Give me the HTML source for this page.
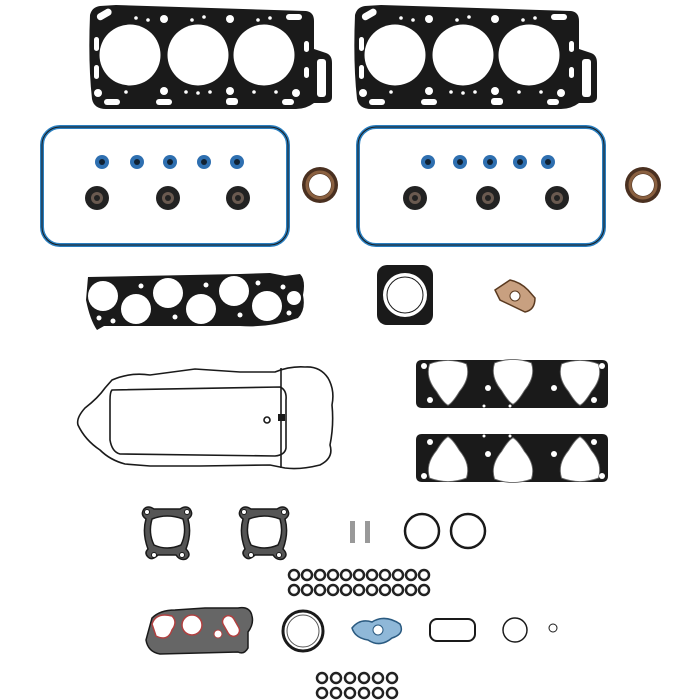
<!DOCTYPE html>
<html><head><meta charset="utf-8"><style>html,body{margin:0;padding:0;background:#fff}svg{display:block}</style></head>
<body>
<svg width="700" height="700" viewBox="0 0 700 700" xmlns="http://www.w3.org/2000/svg">
<defs>
<g id="head">
  <path d="M4,12 Q6,4 14,3 L30,2 L220,8 Q228,9 228,18 L228,46 L240,50 Q246,52 246,60 L246,94 Q246,100 238,100 L228,100 Q220,106 210,106 L20,106 Q8,106 6,96 Q2,60 4,12 Z" fill="#1a1a1a"/>
  <rect x="231" y="56" width="9" height="38" rx="3" fill="#fff"/>
  <circle cx="44" cy="52" r="30.5" fill="#fff"/>
  <circle cx="112" cy="52" r="30.5" fill="#fff"/>
  <circle cx="178" cy="52" r="30.5" fill="#fff"/>
  <g fill="#fff">
    <rect x="10" y="8" width="16" height="7" rx="3.5" transform="rotate(-30 18 11)"/>
    <rect x="200" y="11" width="16" height="6" rx="3"/>
    <rect x="8" y="34" width="5" height="14" rx="2.5"/><rect x="8" y="62" width="5" height="14" rx="2.5"/>
    <rect x="218" y="38" width="5" height="11" rx="2.5"/><rect x="218" y="64" width="5" height="11" rx="2.5"/>
    <circle cx="78" cy="16" r="4"/><circle cx="144" cy="16" r="4"/><circle cx="78" cy="88" r="4"/><circle cx="144" cy="88" r="4"/>
    <circle cx="50" cy="15" r="1.8"/><circle cx="62" cy="17" r="1.8"/><circle cx="106" cy="17" r="1.8"/><circle cx="118" cy="14" r="1.8"/><circle cx="172" cy="17" r="1.8"/><circle cx="184" cy="15" r="1.8"/>
    <circle cx="40" cy="89" r="1.8"/><circle cx="100" cy="89" r="1.8"/><circle cx="112" cy="90" r="1.8"/><circle cx="124" cy="89" r="1.8"/><circle cx="168" cy="89" r="1.8"/><circle cx="190" cy="89" r="1.8"/>
    <circle cx="12" cy="90" r="4"/><circle cx="210" cy="90" r="4"/>
    <rect x="18" y="96" width="16" height="6" rx="3"/><rect x="70" y="96" width="16" height="6" rx="3"/><rect x="140" y="95" width="12" height="7" rx="3"/><rect x="196" y="96" width="12" height="6" rx="3"/>
  </g>
</g>
<g id="vc">
  <rect x="0" y="0" width="246" height="118" rx="18" fill="none" stroke="#2a7fc0" stroke-width="4"/>
  <rect x="0" y="0" width="246" height="118" rx="18" fill="none" stroke="#1a1a1a" stroke-width="1"/>
</g>
<g id="seal"><circle r="12" fill="#222"/><circle r="6" fill="#6a5a50"/><circle r="3" fill="#222"/></g>
<g id="vs"><circle r="7" fill="#2e6fb0"/><circle r="3" fill="#123"/></g>
<g id="bseal"><circle r="18" fill="#4a3020"/><circle r="11" fill="#fff"/><circle r="13" fill="none" stroke="#8a6040" stroke-width="3"/></g>
<g id="tear"><path d="M-16,-14 Q0,-20 16,-14 Q20,-2 10,10 Q4,20 0,22 Q-4,20 -10,10 Q-20,-2 -16,-14 Z" fill="#fff" stroke="#666" stroke-width="0.8" transform="scale(1.15)"/></g>
<g id="im">
  <path d="M4,2 L184,2 Q190,2 190,8 L190,44 Q190,50 184,50 L4,50 Q-2,50 -2,44 L-2,8 Q-2,2 4,2 Z" fill="#1a1a1a"/>
  <use href="#tear" x="30" y="22"/>
  <use href="#tear" x="95" y="21"/>
  <use href="#tear" x="162" y="22"/>
  <g fill="#fff"><circle cx="6" cy="8" r="3"/><circle cx="184" cy="8" r="3"/><circle cx="12" cy="42" r="3"/><circle cx="176" cy="42" r="3"/><circle cx="70" cy="30" r="3"/><circle cx="136" cy="30" r="3"/><circle cx="66" cy="48" r="1.5"/><circle cx="92" cy="48" r="1.5"/></g>
</g>
<g id="sg">
  <path d="M4,4 Q8,0 14,4 L40,4 Q46,0 50,4 Q54,10 48,14 Q52,28 46,44 Q52,50 46,54 Q40,56 36,50 L18,50 Q12,56 8,52 Q4,48 8,44 Q2,28 6,14 Q0,10 4,4 Z" fill="#555" stroke="#1a1a1a" stroke-width="1.5"/>
  <path d="M12,14 Q27,8 43,14 Q47,28 41,40 Q27,46 14,40 Q8,28 12,14 Z" fill="#fff" stroke="#1a1a1a" stroke-width="1.5"/>
  <g fill="#fff" stroke="#1a1a1a"><circle cx="7" cy="7" r="2.5"/><circle cx="47" cy="7" r="2.5"/><circle cx="14" cy="50" r="2.5"/><circle cx="42" cy="50" r="2.5"/></g>
</g>
<g id="or"><circle r="5" fill="none" stroke="#222" stroke-width="2.5"/></g>
</defs>

<use href="#head" x="86" y="3"/>
<use href="#head" x="351" y="3"/>

<use href="#vc" x="42" y="127"/>
<use href="#vc" x="358" y="127"/>
<use href="#vs" x="102" y="162"/><use href="#vs" x="137" y="162"/><use href="#vs" x="170" y="162"/><use href="#vs" x="204" y="162"/><use href="#vs" x="237" y="162"/>
<use href="#vs" x="428" y="162"/><use href="#vs" x="460" y="162"/><use href="#vs" x="490" y="162"/><use href="#vs" x="520" y="162"/><use href="#vs" x="548" y="162"/>
<use href="#seal" x="97" y="198"/><use href="#seal" x="168" y="198"/><use href="#seal" x="238" y="198"/>
<use href="#seal" x="415" y="198"/><use href="#seal" x="488" y="198"/><use href="#seal" x="557" y="198"/>
<use href="#bseal" x="320" y="185"/><use href="#bseal" x="643" y="185"/>

<path d="M88,277 L240,274 L270,273 L285,276 L300,274 Q306,280 303,295 Q306,310 298,318 Q270,328 240,326 L104,326 L97,330 Q90,320 86,300 Z" fill="#1a1a1a"/>
<g fill="#fff">
<circle cx="103" cy="296" r="15"/><circle cx="136" cy="309" r="15"/><circle cx="168" cy="293" r="15"/><circle cx="201" cy="309" r="15"/><circle cx="234" cy="291" r="15"/><circle cx="267" cy="306" r="15"/><circle cx="294" cy="298" r="7"/>
<circle cx="141" cy="286" r="2.5"/><circle cx="206" cy="285" r="2.5"/><circle cx="258" cy="283" r="2.5"/><circle cx="283" cy="287" r="2.5"/><circle cx="175" cy="317" r="2.5"/><circle cx="240" cy="315" r="2.5"/><circle cx="99" cy="318" r="2.5"/><circle cx="113" cy="321" r="2.5"/><circle cx="289" cy="313" r="2.5"/>
</g>
<rect x="377" y="265" width="56" height="60" rx="10" fill="#1a1a1a"/>
<circle cx="405" cy="295" r="22" fill="#fff"/>
<circle cx="405" cy="295" r="18" fill="none" stroke="#1a1a1a" stroke-width="1"/>
<path d="M495,290 L510,280 Q520,282 528,290 L535,298 Q535,310 525,312 L500,300 Z" fill="#c8a080" stroke="#5a3a20" stroke-width="1.5"/>
<circle cx="515" cy="296" r="5" fill="#fff" stroke="#5a3a20"/>

<g fill="none" stroke="#1a1a1a" stroke-width="1.6">
<path d="M112,380 Q130,372 150,375 L195,369 L240,372 L275,372 Q290,366 305,367 Q320,366 328,378 Q335,390 332,405 Q334,425 330,445 Q334,458 320,465 Q300,470 285,468 L270,465 L200,466 Q170,466 150,466 L125,464 Q110,460 100,450 Q85,440 78,425 Q76,418 85,408 Q98,398 105,388 Z"/>
<path d="M112,390 L280,387 Q287,390 286,400 L286,448 Q285,455 275,456 L120,454 Q112,452 110,440 L110,400 Q110,392 112,390 Z"/>
<path d="M281,368 L281,468"/>
<circle cx="267" cy="420" r="3"/>
</g>
<rect x="278" y="414" width="7" height="7" fill="#1a1a1a"/>

<use href="#im" x="418" y="358"/>
<g transform="translate(418,484) scale(1,-1)"><use href="#im"/></g>

<use href="#sg" x="140" y="505"/>
<use href="#sg" x="237" y="505"/>
<rect x="350" y="521" width="5" height="22" fill="#999"/><rect x="365" y="521" width="5" height="22" fill="#999"/>
<circle cx="422" cy="531" r="17" fill="none" stroke="#1a1a1a" stroke-width="2.5"/>
<circle cx="468" cy="531" r="17" fill="none" stroke="#1a1a1a" stroke-width="2.5"/>

<g>
<use href="#or" x="294" y="575"/><use href="#or" x="307" y="575"/><use href="#or" x="320" y="575"/><use href="#or" x="333" y="575"/><use href="#or" x="346" y="575"/><use href="#or" x="359" y="575"/><use href="#or" x="372" y="575"/><use href="#or" x="385" y="575"/><use href="#or" x="398" y="575"/><use href="#or" x="411" y="575"/><use href="#or" x="424" y="575"/>
<use href="#or" x="294" y="590"/><use href="#or" x="307" y="590"/><use href="#or" x="320" y="590"/><use href="#or" x="333" y="590"/><use href="#or" x="346" y="590"/><use href="#or" x="359" y="590"/><use href="#or" x="372" y="590"/><use href="#or" x="385" y="590"/><use href="#or" x="398" y="590"/><use href="#or" x="411" y="590"/><use href="#or" x="424" y="590"/>
</g>

<path d="M152,618 Q160,610 175,610 L205,608 L238,608 Q250,606 252,616 Q254,624 248,632 L248,648 Q244,655 238,652 L160,654 Q148,652 146,640 Z" fill="#666" stroke="#1a1a1a" stroke-width="1.5"/>
<path d="M152,624 Q156,612 172,616 Q178,622 172,630 Q168,642 156,636 Z" fill="#fff" stroke="#b04040" stroke-width="1.5"/>
<circle cx="192" cy="625" r="10" fill="#fff" stroke="#b04040" stroke-width="1.5"/>
<rect x="225" y="615" width="12" height="22" rx="6" fill="#fff" stroke="#b04040" stroke-width="1.5" transform="rotate(-30 231 626)"/>
<circle cx="218" cy="634" r="4" fill="#fff" stroke="#b04040"/>
<circle cx="303" cy="631" r="20" fill="none" stroke="#1a1a1a" stroke-width="3"/>
<circle cx="303" cy="631" r="16" fill="none" stroke="#555" stroke-width="1"/>
<path d="M352,628 Q360,618 372,622 Q385,614 400,624 Q405,634 392,638 Q380,648 368,640 Q355,638 352,628 Z" fill="#8fb8d8" stroke="#2a5a80" stroke-width="1.5"/>
<circle cx="378" cy="630" r="5" fill="#fff" stroke="#2a5a80"/>
<rect x="430" y="619" width="45" height="22" rx="7" fill="none" stroke="#1a1a1a" stroke-width="2"/>
<circle cx="515" cy="630" r="12" fill="none" stroke="#1a1a1a" stroke-width="1.5"/>
<circle cx="553" cy="628" r="4" fill="none" stroke="#1a1a1a" stroke-width="1"/>

<g>
<use href="#or" x="322" y="678"/><use href="#or" x="336" y="678"/><use href="#or" x="350" y="678"/><use href="#or" x="364" y="678"/><use href="#or" x="378" y="678"/><use href="#or" x="392" y="678"/>
<use href="#or" x="322" y="693"/><use href="#or" x="336" y="693"/><use href="#or" x="350" y="693"/><use href="#or" x="364" y="693"/><use href="#or" x="378" y="693"/><use href="#or" x="392" y="693"/>
</g>
</svg>
</body></html>
